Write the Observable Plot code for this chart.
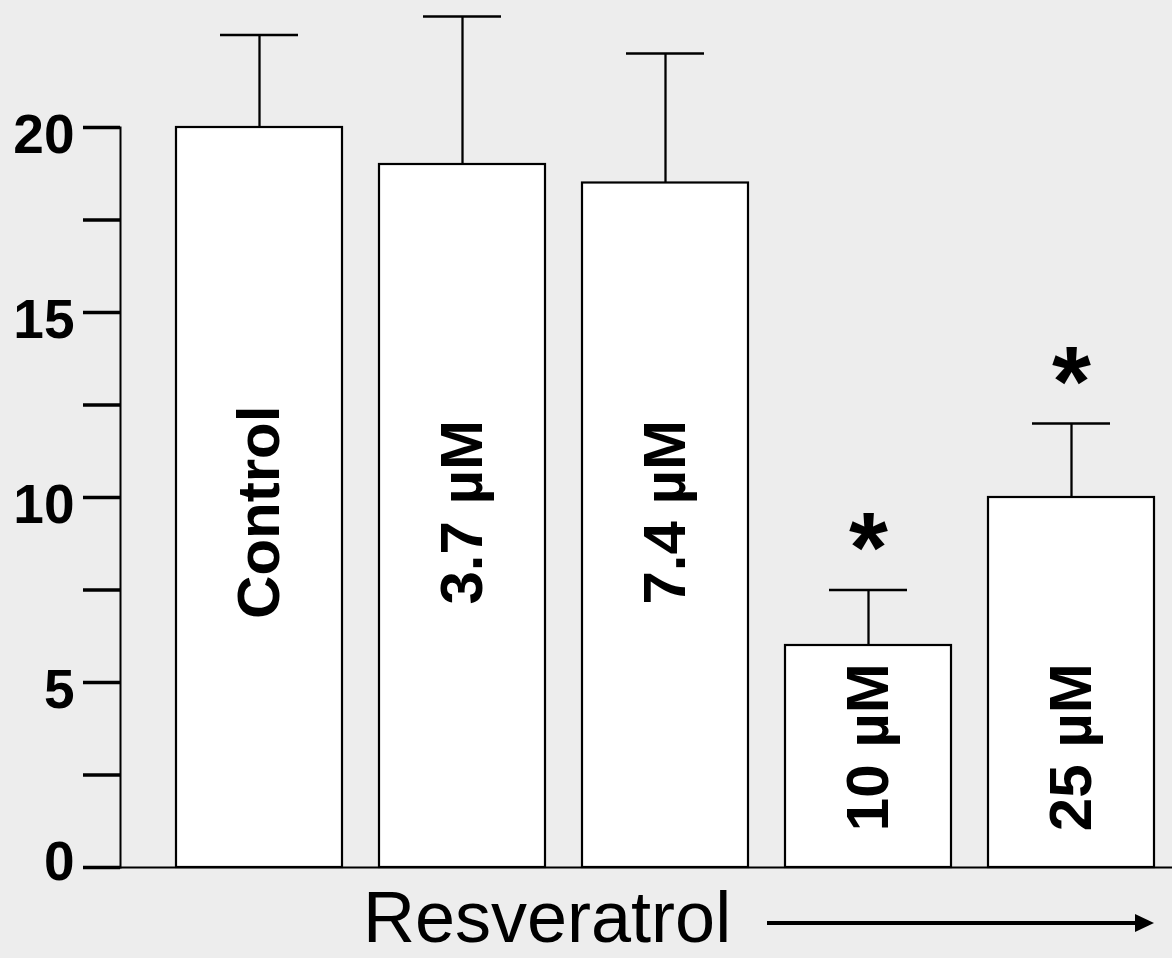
<!DOCTYPE html>
<html>
<head>
<meta charset="utf-8">
<script src="https://cdn.jsdelivr.net/npm/d3@7"></script>
<script src="https://cdn.jsdelivr.net/npm/@observablehq/plot@0.6"></script>
<style>
  html, body { margin: 0; padding: 0; background: #ededed; overflow: hidden; }
  #chart svg { display: block; }
  .caption { position: relative; width: 1172px; height: 78px; font-family: "Liberation Sans", Arial, sans-serif; }
  .caption .label { position: absolute; left: 363px; top: 7px; font-size: 72px; line-height: 60px; color: #000; white-space: nowrap; }
  .caption .shaft { position: absolute; left: 767px; top: 41px; width: 370px; height: 4px; background: #000; }
  .caption .head { position: absolute; left: 1135px; top: 33.5px; width: 0; height: 0;
    border-left: 19px solid #000; border-top: 9.5px solid transparent; border-bottom: 9.5px solid transparent; }
</style>
</head>
<body>
<div id="chart"></div>
<div class="caption">
  <span class="label">Resveratrol</span>
  <div class="shaft"></div>
  <div class="head"></div>
</div>
<script>
// ---- data ----
const categories = ["Control", "3.7 µM", "7.4 µM", "10 µM", "25 µM"];
const means = [20, 19, 18.5, 6, 10];
const errors = [2.5, 4.0, 3.5, 1.5, 2.0];
const significant = [false, false, false, true, true];
const yTicks = [0, 5, 10, 15, 20];
const yMinorTicks = [2.5, 7.5, 12.5, 17.5];

const data = categories.map((c, i) => ({
  cat: c,
  value: means[i],
  upper: means[i] + errors[i],
  sig: significant[i]
}));

const font = '"Liberation Sans", Arial, sans-serif';

const chart = Plot.plot({
  width: 1172,
  height: 880,
  marginLeft: 120,
  marginRight: 0,
  marginTop: 127,
  marginBottom: 13,
  style: { background: "#ededed", fontFamily: font, overflow: "visible", color: "#000" },
  x: { domain: categories, paddingInner: 0.1835, paddingOuter: 0.179, align: 0.75, axis: null },
  y: { domain: [0, 20], axis: null },
  marks: [
    // y axis line
    Plot.frame({ anchor: "left", stroke: "#000", strokeWidth: 2 }),
    // tick lines (major + minor)
    Plot.axisY([...yTicks, ...yMinorTicks], {
      anchor: "left", tickSize: 37, strokeWidth: 3.5, tickFormat: () => "", label: null
    }),
    // tick labels
    Plot.axisY(yTicks.filter(t => t !== 0), {
      anchor: "left", tickSize: 0, tickPadding: 46,
      fontSize: 55, fontWeight: "bold", label: null, dy: 8
    }),
    Plot.axisY(yTicks.filter(t => t === 0), {
      anchor: "left", tickSize: 0, tickPadding: 46,
      fontSize: 55, fontWeight: "bold", label: null, dy: -5
    }),
    // error bar stems and caps
    Plot.ruleX(data, { x: "cat", y1: "value", y2: "upper", stroke: "#000", strokeWidth: 2.3 }),
    Plot.tickY(data, { x: "cat", y: "upper", insetLeft: 44, insetRight: 44, stroke: "#000", strokeWidth: 2.6 }),
    // bars
    Plot.barY(data, { x: "cat", y: "value", fill: "#fff", stroke: "#000", strokeWidth: 2.2 }),
    // baseline
    Plot.ruleY([0], { stroke: "#000", strokeWidth: 2 }),
    // bar labels
    Plot.text(data, {
      x: "cat", y: d => (d.value >= 15 ? 9.6 : 3.25), text: "cat",
      rotate: -90, fontSize: 60, fontWeight: "bold", fill: "#000",
      textAnchor: "middle", lineAnchor: "middle"
    }),
    // significance asterisks
    Plot.text(data.filter(d => d.sig), {
      x: "cat", y: "upper", text: () => "*", fontSize: 100, fontWeight: "bold",
      fill: "#000", lineAnchor: "middle", dy: -40
    })
  ]
});

document.getElementById("chart").appendChild(chart);
</script>
</body>
</html>
